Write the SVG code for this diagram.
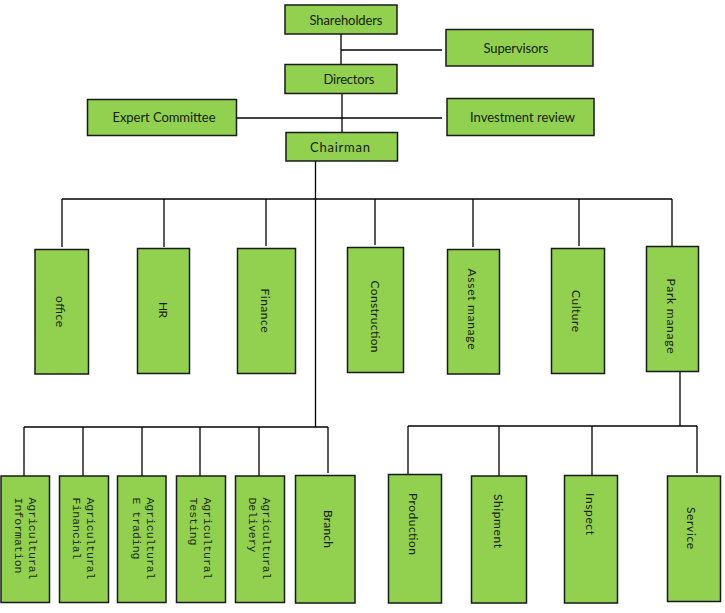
<svg xmlns="http://www.w3.org/2000/svg" width="725" height="613" viewBox="0 0 725 613">
<style>
  .box { fill: #92D050; stroke: #1a1a1a; stroke-width: 1.5; }
  .lbl { font-family: Lato, "Liberation Sans", sans-serif; font-size: 13px; fill: #16200c; }
  .vl { font-family: Lato, "Liberation Sans", sans-serif; font-size: 12px; fill: #16200c; dominant-baseline: central; text-anchor: middle; }
  .mono { font-family: "Liberation Mono", "DejaVu Sans Mono", monospace; font-size: 11.5px; fill: #1e2a12; dominant-baseline: central; }
  .conn line { stroke: #000; stroke-width: 1.3; }
</style>
<rect width="725" height="613" fill="#ffffff"/>

<g id="connectors" class="conn">
  <line x1="341" y1="34" x2="341" y2="64"/>
  <line x1="341" y1="50" x2="442" y2="50"/>
  <line x1="342" y1="93" x2="342" y2="132"/>
  <line x1="237" y1="118" x2="442" y2="118"/>
  <line x1="315.5" y1="161" x2="315.5" y2="427"/>
  <line x1="62" y1="199" x2="672" y2="199"/>
  <line x1="62" y1="199" x2="62" y2="247"/>
  <line x1="164" y1="199" x2="164" y2="247"/>
  <line x1="266" y1="199" x2="266" y2="246"/>
  <line x1="375" y1="199" x2="375" y2="245"/>
  <line x1="473" y1="199" x2="473" y2="247"/>
  <line x1="579" y1="199" x2="579" y2="246"/>
  <line x1="672" y1="199" x2="672" y2="246"/>
  <line x1="680" y1="371" x2="680" y2="426"/>
  <line x1="408" y1="426" x2="697" y2="426"/>
  <line x1="408" y1="426" x2="408" y2="474"/>
  <line x1="499" y1="426" x2="499" y2="476"/>
  <line x1="592" y1="426" x2="592" y2="475"/>
  <line x1="697" y1="426" x2="697" y2="473"/>
  <line x1="24" y1="427" x2="328" y2="427"/>
  <line x1="24" y1="427" x2="24" y2="476"/>
  <line x1="83" y1="427" x2="83" y2="476"/>
  <line x1="142" y1="427" x2="142" y2="476"/>
  <line x1="200" y1="427" x2="200" y2="476"/>
  <line x1="259" y1="427" x2="259" y2="476"/>
  <line x1="328" y1="427" x2="328" y2="473"/>
</g>

<g id="shareholders"><rect class="box" x="285" y="5" width="112" height="29"/><text class="lbl" x="346" y="25" text-anchor="middle" textLength="73">Shareholders</text></g>
<g id="supervisors"><rect class="box" x="446" y="29.5" width="147" height="36.5"/><text class="lbl" x="516" y="52.5" text-anchor="middle" textLength="65">Supervisors</text></g>
<g id="directors"><rect class="box" x="285" y="64.5" width="112" height="29"/><text class="lbl" x="349" y="84" text-anchor="middle" textLength="51">Directors</text></g>
<g id="expert-committee"><rect class="box" x="87.5" y="99.5" width="149" height="36"/><text class="lbl" x="164" y="122" text-anchor="middle" textLength="103">Expert Committee</text></g>
<g id="investment-review"><rect class="box" x="447" y="98.5" width="147" height="37"/><text class="lbl" x="522.5" y="121.5" text-anchor="middle" textLength="105">Investment review</text></g>
<g id="chairman"><rect class="box" x="286" y="132.5" width="111.5" height="28.5"/><text class="lbl" x="340" y="151.5" text-anchor="middle" font-size="14" textLength="60">Chairman</text></g>

<g id="office"><rect class="box" x="35" y="249.5" width="53.5" height="124.5"/><text class="vl" transform="translate(60,311.5) rotate(90)" textLength="31">office</text></g>
<g id="hr"><rect class="box" x="137.5" y="248.5" width="52" height="125"/><text class="vl" transform="translate(163.5,310) rotate(90)" textLength="16">HR</text></g>
<g id="finance"><rect class="box" x="237.5" y="248.5" width="58" height="125"/><text class="vl" transform="translate(265.5,310.5) rotate(90)" textLength="44">Finance</text></g>
<g id="construction"><rect class="box" x="347.5" y="247.5" width="56" height="125"/><text class="vl" transform="translate(375,316.5) rotate(90)" textLength="72">Construction</text></g>
<g id="asset-manage"><rect class="box" x="447.5" y="249.5" width="52" height="124.5"/><text class="vl" transform="translate(472.5,309) rotate(90)" textLength="81">Asset manage</text></g>
<g id="culture"><rect class="box" x="551.5" y="248.5" width="53" height="125"/><text class="vl" transform="translate(576.5,311) rotate(90)" textLength="42">Culture</text></g>
<g id="park-manage"><rect class="box" x="646.5" y="246.5" width="52" height="125"/><text class="vl" transform="translate(671.5,316) rotate(90)" textLength="75">Park manage</text></g>

<g id="agri-information"><rect class="box" x="1" y="476" width="48.5" height="126.5"/><text class="mono" transform="translate(32.5,497.5) rotate(90)"><tspan x="0" y="0" textLength="82">Agricultural</tspan><tspan x="0" y="14" textLength="76">Information</tspan></text></g>
<g id="agri-financial"><rect class="box" x="59.5" y="476" width="49" height="126.5"/><text class="mono" transform="translate(90.5,497.5) rotate(90)"><tspan x="0" y="0" textLength="82">Agricultural</tspan><tspan x="0" y="14" textLength="62">Financial</tspan></text></g>
<g id="agri-etrading"><rect class="box" x="117.5" y="476" width="48.5" height="126.5"/><text class="mono" transform="translate(150.5,497.5) rotate(90)"><tspan x="0" y="0" textLength="82">Agricultural</tspan><tspan x="0" y="14" textLength="62">E trading</tspan></text></g>
<g id="agri-testing"><rect class="box" x="176.5" y="476" width="49" height="126.5"/><text class="mono" transform="translate(208,497.5) rotate(90)"><tspan x="0" y="0" textLength="82">Agricultural</tspan><tspan x="0" y="14" textLength="48">Testing</tspan></text></g>
<g id="agri-delivery"><rect class="box" x="235.5" y="476" width="49" height="126.5"/><text class="mono" transform="translate(267,497.5) rotate(90)"><tspan x="0" y="0" textLength="82">Agricultural</tspan><tspan x="0" y="14" textLength="55">Delivery</tspan></text></g>
<g id="branch"><rect class="box" x="295.5" y="475.5" width="59.5" height="127.5"/><text class="vl" transform="translate(328.5,529) rotate(90)" textLength="38">Branch</text></g>

<g id="production"><rect class="box" x="388.5" y="474.5" width="53" height="128.5"/><text class="vl" transform="translate(413.5,524) rotate(90)" textLength="62">Production</text></g>
<g id="shipment"><rect class="box" x="471.5" y="476" width="55" height="127"/><text class="vl" transform="translate(498.5,521) rotate(90)" textLength="54">Shipment</text></g>
<g id="inspect"><rect class="box" x="564.5" y="475.5" width="53" height="127.5"/><text class="vl" transform="translate(590,514) rotate(90)" textLength="42">Inspect</text></g>
<g id="service"><rect class="box" x="667.5" y="476" width="53" height="125.5"/><text class="vl" transform="translate(691.5,528) rotate(90)" textLength="42">Service</text></g>
</svg>
